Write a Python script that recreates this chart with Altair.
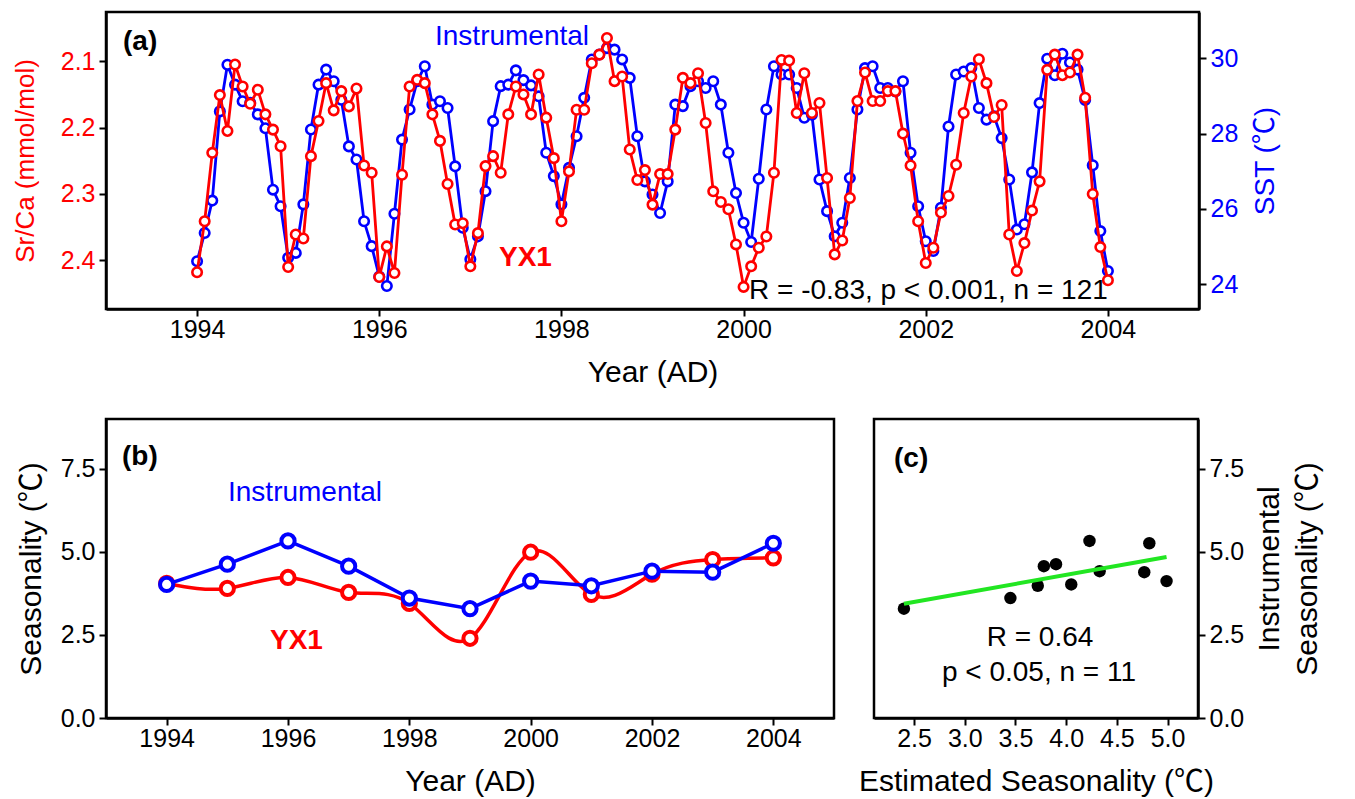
import altair as alt
import pandas as pd

FONT = "Liberation Sans, Noto Sans CJK SC, Arial, sans-serif"
RED = "#ff0000"
BLUE = "#0000ff"
GREEN = "#22e622"

# ---------------- panel (a): monthly data, Jan 1994 - Jan 2004 ----------------
sst = [
    24.61, 25.36, 26.22, 28.59, 29.83, 29.30, 28.86, 28.82, 28.51, 28.14, 26.51, 26.07,
    24.70, 24.83, 26.12, 28.11, 29.30, 29.70, 29.39, 28.90, 27.66, 27.31, 25.67, 25.01,
    24.20, 23.95, 25.87, 27.84, 28.64, 29.39, 29.79, 28.77, 28.86, 28.68, 27.13, 25.50,
    24.66, 25.27, 26.47, 28.33, 29.26, 29.30, 29.68, 29.42, 29.28, 28.99, 27.49, 26.87,
    26.12, 27.09, 27.93, 28.95, 29.97, 30.10, 30.27, 30.23, 29.97, 29.48, 27.93, 26.73,
    26.38, 25.89, 26.73, 28.77, 28.73, 29.26, 29.39, 29.21, 29.39, 28.77, 27.49, 26.42,
    25.63, 25.12, 26.80, 28.64, 29.79, 29.57, 29.57, 29.21, 28.42, 28.50, 26.78, 25.94,
    25.27, 25.63, 26.82, 28.64, 29.74, 29.79, 29.21, 29.21, 29.12, 29.39, 27.49, 26.07,
    25.14, 24.88, 26.03, 28.19, 29.57, 29.65, 29.74, 28.68, 28.37, 28.46, 27.88, 26.78,
    25.45, 25.59, 26.97, 28.81, 29.99, 29.55, 30.12, 29.89, 29.70, 28.89, 27.16, 25.41,
    24.35,
]
srca = [
    2.418, 2.341, 2.238, 2.151, 2.205, 2.105, 2.138, 2.164, 2.143, 2.180, 2.203, 2.228,
    2.410, 2.361, 2.367, 2.243, 2.190, 2.133, 2.174, 2.145, 2.168, 2.141, 2.257, 2.268,
    2.425, 2.379, 2.419, 2.271, 2.138, 2.128, 2.133, 2.180, 2.220, 2.285, 2.346, 2.344,
    2.409, 2.359, 2.258, 2.243, 2.268, 2.180, 2.138, 2.150, 2.180, 2.120, 2.185, 2.246,
    2.341, 2.266, 2.173, 2.173, 2.103, 2.090, 2.065, 2.130, 2.123, 2.233, 2.279, 2.264,
    2.316, 2.270, 2.270, 2.203, 2.125, 2.133, 2.118, 2.193, 2.296, 2.312, 2.323, 2.376,
    2.440, 2.409, 2.381, 2.364, 2.268, 2.098, 2.099, 2.178, 2.118, 2.178, 2.163, 2.276,
    2.391, 2.370, 2.306, 2.160, 2.117, 2.160, 2.160, 2.145, 2.145, 2.209, 2.257, 2.341,
    2.404, 2.381, 2.328, 2.303, 2.256, 2.178, 2.123, 2.097, 2.133, 2.184, 2.166, 2.361,
    2.416, 2.374, 2.325, 2.281, 2.113, 2.090, 2.121, 2.117, 2.090, 2.155, 2.300, 2.380,
    2.430,
]
months = [1994 + i / 12 for i in range(len(sst))]
year_ticks = [1994, 1996, 1998, 2000, 2002, 2004]
srca_ticks = [2.1, 2.2, 2.3, 2.4]
sst_ticks = [24, 26, 28, 30]

# ---------------- panels (b) and (c): annual seasonality ----------------
years = [1994, 1995, 1996, 1997, 1998, 1999, 2000, 2001, 2002, 2003, 2004]
yx1 = [4.05, 3.90, 4.23, 3.78, 3.45, 2.40, 4.99, 3.72, 4.33, 4.77, 4.82]
instr = [4.02, 4.63, 5.33, 4.57, 3.61, 3.29, 4.12, 3.98, 4.42, 4.39, 5.26]
season_ticks = [0, 2.5, 5.0, 7.5]
est_ticks = [2.5, 3.0, 3.5, 4.0, 4.5, 5.0]


def label(text, x, y, color="black", size=28, weight="normal", align="left"):
    return alt.Chart(pd.DataFrame({"t": [text]})).mark_text(
        align=align, baseline="middle", font=FONT, fontSize=size,
        fontWeight=weight, color=color
    ).encode(text="t:N", x=alt.value(x), y=alt.value(y))


# ---------------- panel (a) ----------------
df_a = pd.DataFrame({"year": months, "sst": sst, "srca": srca})
x_a = alt.X("year:Q", scale=alt.Scale(domain=[1993, 2005], nice=False, zero=False),
            axis=alt.Axis(values=year_ticks, format="d", title="Year (AD)",
                          labelPadding=1, titlePadding=15))

blue_a = alt.Chart(df_a).mark_line(
    color=BLUE, strokeWidth=2.8,
    point=alt.OverlayMarkDef(shape="circle", filled=True, fill="white", stroke=BLUE,
                             strokeWidth=2.6, size=90, opacity=1)
).encode(
    x=x_a,
    y=alt.Y("sst:Q", scale=alt.Scale(domain=[23.34, 31.23], nice=False, zero=False),
            axis=alt.Axis(orient="right", values=sst_ticks, format="d", title="SST (℃)",
                          labelColor=BLUE, titleColor=BLUE, titleAngle=270,
                          titleBaseline="top", labelPadding=4, titlePadding=14,
                          titleFontSize=28)),
)
red_a = alt.Chart(df_a).mark_line(
    color=RED, strokeWidth=2.8,
    point=alt.OverlayMarkDef(shape="circle", filled=True, fill="white", stroke=RED,
                             strokeWidth=2.6, size=90, opacity=1)
).encode(
    x=x_a,
    y=alt.Y("srca:Q", scale=alt.Scale(domain=[2.0258, 2.4733], reverse=True, nice=False, zero=False),
            axis=alt.Axis(orient="left", values=srca_ticks, format=".1f", title="Sr/Ca (mmol/mol)",
                          labelColor=RED, titleColor=RED, labelPadding=4, titlePadding=22,
                          titleFontSize=26)),
)
panel_a = alt.layer(
    blue_a, red_a,
    label("(a)", 17, 30, weight="bold"),
    label("Instrumental", 329, 25, color=BLUE),
    label("YX1", 393, 246, color=RED, weight="bold"),
    label("R = -0.83, p < 0.001, n = 121", 643, 279),
).resolve_scale(y="independent").properties(width=1093, height=297)

# ---------------- panel (b) ----------------
df_b = pd.DataFrame({"year": years, "yx1": yx1, "instr": instr})
x_b = alt.X("year:Q", scale=alt.Scale(domain=[1993, 2005], nice=False, zero=False),
            axis=alt.Axis(values=year_ticks, format="d", title="Year (AD)",
                          labelPadding=1, titlePadding=15))
y_scale_b = alt.Scale(domain=[0, 9], nice=False, zero=False)

red_b = alt.Chart(df_b).mark_line(
    color=RED, strokeWidth=3.5, interpolate="natural",
    point=alt.OverlayMarkDef(shape="circle", filled=True, fill="white", stroke=RED,
                             strokeWidth=4, size=175, opacity=1)
).encode(
    x=x_b,
    y=alt.Y("yx1:Q", scale=y_scale_b,
            axis=alt.Axis(values=season_ticks, format=".1f", title="Seasonality (℃)",
                          labelPadding=4, titlePadding=14)),
)
blue_b = alt.Chart(df_b).mark_line(
    color=BLUE, strokeWidth=3.5,
    point=alt.OverlayMarkDef(shape="circle", filled=True, fill="white", stroke=BLUE,
                             strokeWidth=4, size=175, opacity=1)
).encode(x=x_b, y=alt.Y("instr:Q", scale=y_scale_b))

panel_b = alt.layer(
    red_b, blue_b,
    label("(b)", 16, 38, weight="bold"),
    label("Instrumental", 122, 74, color=BLUE),
    label("YX1", 164, 222, color=RED, weight="bold"),
).properties(width=728, height=299)

# ---------------- panel (c) ----------------
x_c = alt.X("yx1:Q", scale=alt.Scale(domain=[2.105, 5.30], nice=False, zero=False),
            axis=alt.Axis(values=est_ticks, format=".1f", title="Estimated Seasonality (℃)",
                          labelPadding=1, titlePadding=15))
y_c = alt.Y("instr:Q", scale=alt.Scale(domain=[0, 9], nice=False, zero=False),
            axis=alt.Axis(orient="right", values=season_ticks, format=".1f",
                          title=["Instrumental", "Seasonality (℃)"], titleAngle=270,
                          titleBaseline="top", titleLineHeight=38,
                          labelPadding=4, titlePadding=-27))

pts_c = alt.Chart(df_b).mark_circle(color="black", size=155, opacity=1).encode(x=x_c, y=y_c)
fit_c = alt.Chart(df_b).transform_regression("yx1", "instr").mark_line(
    color=GREEN, strokeWidth=4).encode(x="yx1:Q", y="instr:Q")

panel_c = alt.layer(
    pts_c, fit_c,
    label("(c)", 20, 40, weight="bold"),
    label("R = 0.64", 166, 219, align="center"),
    label("p < 0.05, n = 11", 165, 254, align="center"),
).properties(width=324, height=299)

chart = alt.vconcat(
    panel_a,
    alt.hconcat(panel_b, panel_c, spacing=40, bounds="flush"),
    spacing=110, bounds="flush",
).configure_view(
    stroke="black", strokeWidth=2.5
).configure_axis(
    grid=False, domainColor="black", domainWidth=2.5, tickColor="black", tickWidth=2,
    tickSize=7, labelFont=FONT, titleFont=FONT, labelFontSize=25, titleFontSize=30,
    titleFontWeight="normal", labelColor="black", titleColor="black",
).properties(padding={"left": 2, "top": 2, "right": 5, "bottom": 5})

chart.save("out.html", embed_options={"renderer": "svg", "actions": False})
